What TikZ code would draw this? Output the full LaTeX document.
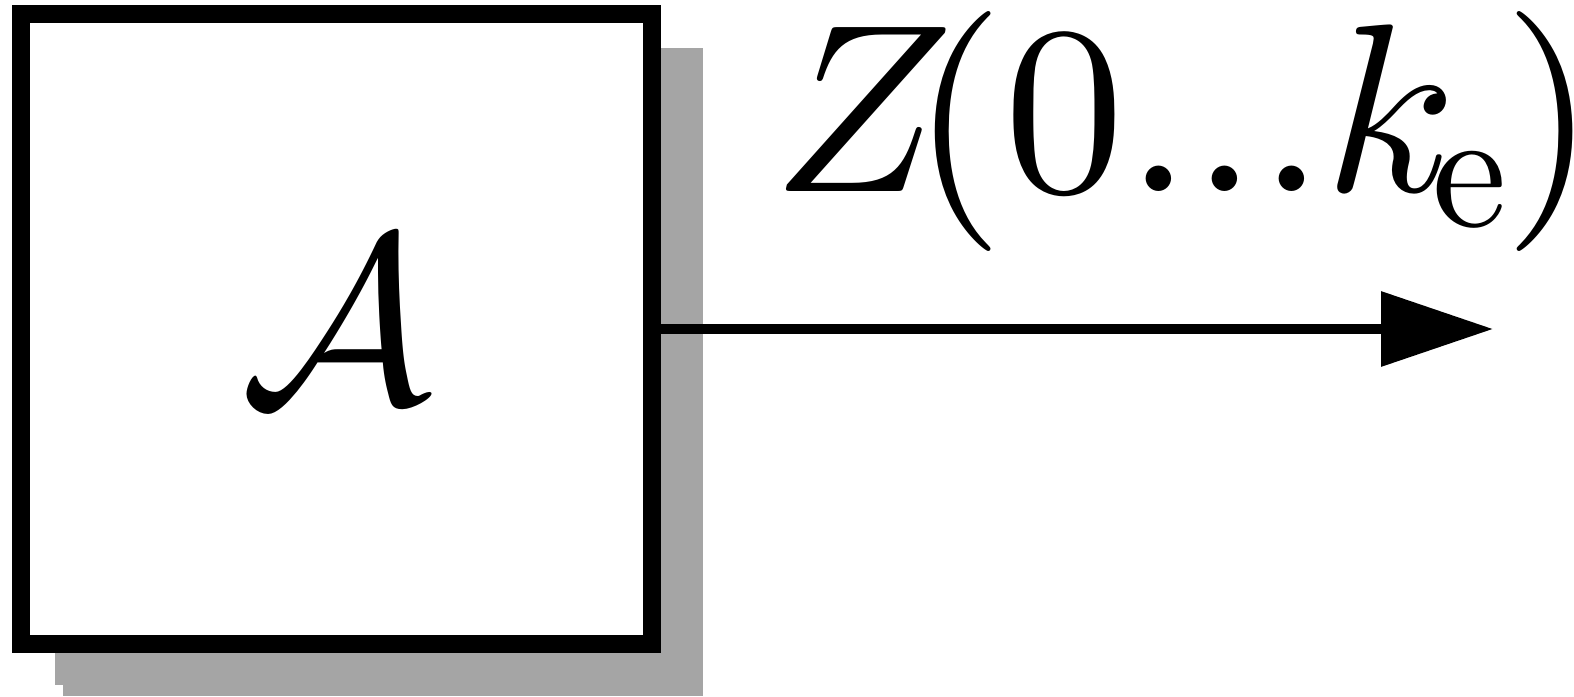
\documentclass[tikz,border=0pt]{standalone}
\usetikzlibrary{arrows.meta}
\definecolor{shadowgray}{RGB}{165,165,165}
\newcommand{\bigsix}[1]{\scalebox{6}{#1}}
\begin{document}
\begin{tikzpicture}[x=0.25pt,y=-0.25pt,
  blockbox/.style={draw=black, line width=4.5pt, fill=white, rectangle,
    minimum width=157.75pt, minimum height=157.5pt, inner sep=0pt,
    text height=36.5pt, text depth=0pt},
  shadowbox/.style={fill=shadowgray},
  flow/.style={line width=2.5pt, -{Triangle[length=28pt 0 0, width=18.25pt 0 0]}},
  lbl/.style={inner sep=0pt, anchor=base west}]
\useasboundingbox (0,0) rectangle (1574,696);
\fill[shadowbox] (55,48) rectangle (703,685);
\fill[shadowbox] (63,48) rectangle (703,696);
\node[blockbox] (A) at (336.5,329) {\bigsix{$\mathcal{A}$}};
\coordinate (out) at (1493,329);
\draw[flow] (A.east) -- (out);
\node[lbl] (Z) at (772,191) {\bigsix{$Z\kern-1.75pt(0...k_{\kern-0.75pt\scalebox{0.7}{$\mathrm{e}$}}\kern-0.65pt)$}};
\end{tikzpicture}
\end{document}
